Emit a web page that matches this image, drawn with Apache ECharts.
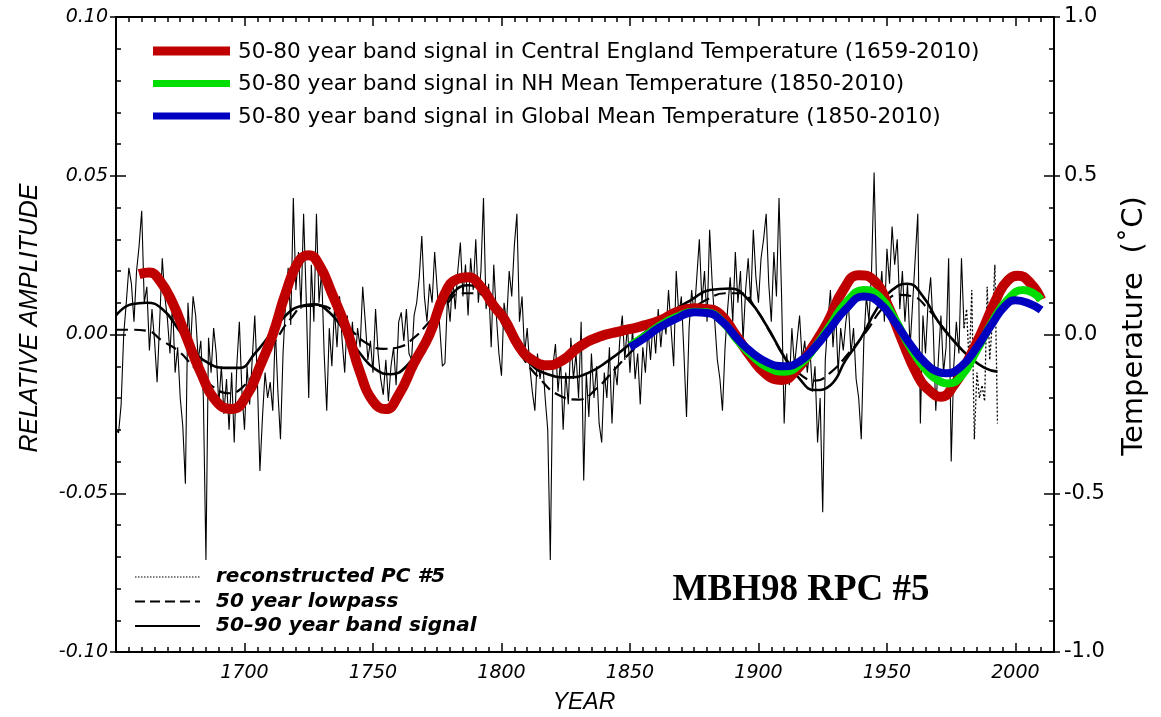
<!DOCTYPE html>
<html>
<head>
<meta charset="utf-8">
<script src="https://cdn.jsdelivr.net/npm/echarts@6/dist/echarts.min.js"></script>
<style>
  html, body { margin: 0; padding: 0; background: #ffffff; }
  #chart { width: 1161px; height: 717px; }
</style>
</head>
<body>
<div id="chart"></div>
<script>
// ---- Reconstructed PC #5 (relative amplitude), annual values 1650-1980 ----
const pcStartYear = 1650;
const pcValues = [
  -0.030, -0.031, -0.022, 0.000, 0.010, 0.021, 0.016, 0.004, 0.020, 0.028,   // 1650-1659
  0.039, 0.010, 0.015, -0.005, 0.008, -0.002, -0.015, 0.004, 0.024, 0.012,   // 1660-1669
  0.005, -0.006, 0.010, -0.012, -0.004, -0.020, -0.029, -0.047, 0.010, -0.004, // 1670-1679
  0.012, 0.006, -0.008, -0.002, -0.020, -0.071, -0.001, -0.012, 0.002, -0.006, // 1680-1689
  -0.022, -0.010, -0.025, -0.014, -0.030, -0.012, -0.034, -0.010, 0.004, -0.018, // 1690-1699
  -0.030, -0.010, -0.022, -0.008, 0.006, -0.014, -0.043, -0.026, -0.012, -0.020, // 1700-1709
  -0.015, -0.024, 0.002, -0.018, -0.033, -0.006, 0.010, 0.021, 0.003, 0.043,  // 1710-1719
  0.014, 0.026, 0.008, 0.038, 0.012, -0.020, 0.022, 0.004, 0.038, 0.010,      // 1720-1729
  0.020, -0.006, -0.024, 0.002, -0.010, 0.008, -0.004, 0.012, -0.002, -0.012, // 1730-1739
  0.006, -0.006, 0.004, -0.010, 0.002, -0.004, 0.015, 0.004, -0.008, -0.002,  // 1740-1749
  -0.012, 0.008, -0.006, -0.014, -0.019, -0.008, -0.021, -0.010, -0.004, -0.016, // 1750-1759
  0.004, 0.007, -0.002, 0.008, -0.006, -0.008, 0.006, 0.010, 0.018, 0.031,    // 1760-1769
  0.012, 0.004, 0.016, 0.010, 0.026, 0.014, 0.002, -0.010, -0.009, 0.012,     // 1770-1779
  0.004, 0.018, 0.008, 0.020, 0.029, 0.012, 0.022, 0.006, 0.024, 0.014,       // 1780-1789
  0.030, 0.010, 0.020, 0.043, 0.008, 0.016, -0.004, 0.022, 0.006, -0.006,     // 1790-1799
  -0.013, 0.010, 0.004, 0.020, 0.012, 0.028, 0.038, 0.004, 0.012, -0.006,     // 1800-1809
  0.002, -0.010, -0.018, -0.024, -0.006, -0.014, -0.008, -0.020, -0.030, -0.071, // 1810-1819
  -0.010, -0.003, -0.018, -0.008, -0.030, -0.012, -0.022, -0.001, -0.014, -0.006, // 1820-1829
  -0.020, 0.004, -0.046, -0.012, -0.026, -0.006, -0.020, -0.010, -0.028, -0.034, // 1830-1839
  -0.012, -0.020, -0.004, -0.028, -0.010, -0.016, -0.002, 0.006, -0.008, 0.003, // 1840-1849
  -0.012, 0.002, -0.014, -0.006, -0.022, -0.004, -0.012, 0.002, -0.008, 0.004, // 1850-1859
  -0.006, 0.008, -0.004, 0.006, 0.000, 0.014, 0.002, -0.010, 0.020, 0.006,    // 1860-1869
  0.012, -0.006, -0.026, 0.002, 0.014, 0.006, 0.018, 0.030, 0.010, 0.020,     // 1870-1879
  0.004, 0.033, 0.016, 0.004, -0.008, -0.014, -0.024, -0.004, 0.008, 0.018,   // 1880-1889
  0.004, 0.026, 0.010, 0.020, -0.002, 0.014, 0.024, 0.010, 0.033, 0.018,      // 1890-1899
  0.010, 0.024, 0.030, 0.038, 0.016, 0.004, 0.026, 0.012, 0.043, 0.012,       // 1900-1909
  -0.028, -0.006, -0.016, 0.002, -0.010, -0.002, 0.006, -0.008, -0.002, -0.012, // 1910-1919
  -0.004, -0.018, -0.010, -0.034, -0.020, -0.056, -0.008, 0.004, 0.014, -0.004, // 1920-1929
  0.008, -0.012, 0.002, -0.005, 0.004, 0.010, -0.006, 0.002, -0.014, -0.020,  // 1930-1939
  -0.033, -0.002, 0.012, 0.004, 0.020, 0.051, 0.014, 0.010, 0.020, 0.004,     // 1940-1949
  0.027, 0.016, 0.034, 0.022, 0.030, 0.008, 0.020, 0.004, 0.016, -0.004,      // 1950-1959
  0.010, 0.024, 0.038, -0.028, 0.006, -0.006, 0.010, 0.018, 0.002, -0.024,    // 1960-1969
  -0.008, 0.006, -0.012, -0.004, 0.024, -0.040, -0.010, 0.004, -0.006, 0.024, // 1970-1979
  0.002                                                                         // 1980
];

// ---- Reconstructed PC #5 tail shown dotted, 1980-1993 ----
const pcTailYears  = [1980, 1981, 1982, 1983, 1984, 1985, 1986, 1987, 1988, 1989, 1990, 1991, 1992, 1993];
const pcTailValues = [0.002, 0.008, -0.010, 0.014, -0.033, -0.012, -0.020, -0.016, -0.021, 0.015, -0.008, 0.004, 0.022, -0.028];

// ---- 50 year lowpass of PC #5 ----
const lowYears  = [1650, 1656, 1662, 1668, 1674, 1680, 1687, 1694, 1700, 1706, 1712, 1718, 1724, 1730, 1736, 1742, 1748, 1754, 1760, 1766, 1772, 1778, 1784, 1790, 1796, 1802, 1808, 1815, 1822, 1830, 1837, 1844, 1851, 1858, 1865, 1872, 1880, 1887, 1893, 1899, 1905, 1911, 1917, 1922, 1928, 1935, 1942, 1948, 1954, 1960, 1966, 1972, 1977];
const lowValues = [0.0015, 0.0015, 0.0012, -0.002, -0.005, -0.010, -0.016, -0.0185, -0.016, -0.009, -0.002, 0.005, 0.009, 0.009, 0.006, 0.001, -0.003, -0.0045, -0.004, -0.001, 0.004, 0.009, 0.013, 0.013, 0.009, 0.001, -0.007, -0.014, -0.019, -0.0205, -0.017, -0.011, -0.005, 0.000, 0.004, 0.007, 0.011, 0.013, 0.013, 0.008, 0.000, -0.008, -0.013, -0.0145, -0.012, -0.006, 0.001, 0.008, 0.0125, 0.012, 0.008, 0.002, -0.003];

// ---- 50-90 year band signal of PC #5 ----
const bandYears  = [1650, 1656, 1662, 1668, 1674, 1680, 1686, 1692, 1698, 1704, 1710, 1716, 1722, 1727, 1733, 1739, 1745, 1751, 1757, 1763, 1769, 1775, 1781, 1787, 1793, 1799, 1805, 1811, 1818, 1826, 1834, 1842, 1850, 1858, 1866, 1874, 1881, 1889, 1896, 1903, 1910, 1916, 1922, 1928, 1934, 1940, 1946, 1952, 1958, 1964, 1970, 1976, 1982, 1988, 1993];
const bandValues = [0.006, 0.0095, 0.010, 0.008, 0.002, -0.005, -0.009, -0.0105, -0.0105, -0.006, 0.000, 0.006, 0.009, 0.0095, 0.007, 0.001, -0.006, -0.011, -0.0125, -0.010, -0.003, 0.006, 0.013, 0.0155, 0.013, 0.006, -0.002, -0.009, -0.0125, -0.0135, -0.012, -0.008, -0.003, 0.002, 0.007, 0.011, 0.014, 0.0145, 0.011, 0.003, -0.007, -0.014, -0.0175, -0.016, -0.008, -0.001, 0.008, 0.014, 0.016, 0.012, 0.004, -0.002, -0.007, -0.0105, -0.0117];

// ---- 50-80 year band signals in temperature records (deg C) ----
const cetYears = [1659, 1663, 1667, 1672, 1677, 1683, 1689, 1695, 1701, 1706, 1711, 1716, 1721, 1725, 1729, 1734, 1740, 1745, 1750, 1755, 1760, 1766, 1772, 1778, 1783, 1787, 1792, 1797, 1801, 1807, 1812, 1818, 1824, 1830, 1838, 1846, 1854, 1862, 1868, 1875, 1880, 1885, 1891, 1897, 1903, 1909, 1915, 1921, 1927, 1933, 1939, 1945, 1951, 1955, 1962, 1967, 1971, 1976, 1981, 1987, 1993, 1997, 2001, 2006, 2010];
const cetTemp  = [0.19, 0.195, 0.17, 0.10, 0.00, -0.12, -0.21, -0.235, -0.19, -0.10, 0.00, 0.13, 0.23, 0.25, 0.22, 0.13, 0.01, -0.12, -0.21, -0.235, -0.19, -0.09, 0.00, 0.13, 0.175, 0.18, 0.15, 0.09, 0.05, -0.04, -0.08, -0.097, -0.08, -0.04, -0.007, 0.01, 0.025, 0.045, 0.07, 0.083, 0.08, 0.065, 0.00, -0.07, -0.125, -0.143, -0.11, -0.04, 0.04, 0.14, 0.187, 0.17, 0.08, 0.00, -0.13, -0.18, -0.196, -0.16, -0.09, 0.01, 0.12, 0.17, 0.185, 0.16, 0.11];

const nhYears = [1850, 1855, 1861, 1868, 1875, 1880, 1886, 1892, 1898, 1904, 1910, 1916, 1922, 1928, 1934, 1941, 1947, 1953, 1959, 1965, 1970, 1974, 1979, 1985, 1991, 1997, 2003, 2007, 2010];
const nhTemp  = [-0.035, -0.01, 0.025, 0.055, 0.072, 0.07, 0.04, -0.02, -0.07, -0.105, -0.117, -0.095, -0.04, 0.03, 0.10, 0.14, 0.12, 0.05, -0.04, -0.11, -0.145, -0.154, -0.13, -0.05, 0.04, 0.11, 0.14, 0.13, 0.11];

const glYears = [1850, 1855, 1861, 1868, 1875, 1880, 1886, 1892, 1898, 1904, 1910, 1916, 1922, 1928, 1934, 1941, 1947, 1953, 1959, 1965, 1970, 1973, 1979, 1985, 1991, 1996, 2000, 2006, 2010];
const glTemp  = [-0.04, -0.015, 0.02, 0.05, 0.07, 0.068, 0.04, -0.015, -0.06, -0.09, -0.10, -0.085, -0.04, 0.02, 0.08, 0.12, 0.10, 0.04, -0.03, -0.09, -0.118, -0.122, -0.10, -0.04, 0.035, 0.09, 0.108, 0.095, 0.077];

// ---- axis tick values ----
const yearTicks = [1700, 1750, 1800, 1850, 1900, 1950, 2000];
const ampTicks  = [-0.10, -0.05, 0.00, 0.05, 0.10];
const tempTicks = [-1.0, -0.5, 0.0, 0.5, 1.0];

// ---- legend texts ----
const colourLegend = [
  { text: '50-80 year band signal in Central England Temperature (1659-2010)', color: '#c00000', width: 9 },
  { text: '50-80 year band signal in NH Mean Temperature (1850-2010)', color: '#00dd00', width: 7 },
  { text: '50-80 year band signal in Global Mean Temperature (1850-2010)', color: '#0000c0', width: 7 }
];
const blackLegend = [
  { text: 'reconstructed PC #5', dash: [1.5, 1.5], width: 1 },
  { text: '50 year lowpass', dash: [10, 5], width: 2 },
  { text: '50\u201390 year band signal', dash: null, width: 2 }
];

const pair = (xs, ys) => xs.map((x, i) => [x, ys[i]]);
const pcData = pcValues.map((v, i) => [pcStartYear + i, v]);

const GRID = { left: 116, right: 107, top: 17, bottom: 65 };
const xMin = 1650, xMax = 2015;

function xAxisDef(position, interval, major) {
  return {
    type: 'value', position: position, min: xMin, max: xMax, interval: interval,
    axisLine: { show: true, onZero: false, lineStyle: { color: '#000', width: 2 } },
    axisTick: { show: true, inside: true, length: major ? 9 : 5, lineStyle: { color: '#000', width: 1.5 } },
    axisLabel: {
      show: major && position === 'bottom',
      showMinLabel: false, showMaxLabel: false,
      margin: 12, color: '#000', fontFamily: 'DejaVu Sans', fontStyle: 'italic', fontSize: 19,
      formatter: v => (yearTicks.indexOf(Math.round(v)) >= 0 ? String(Math.round(v)) : '')
    },
    splitLine: { show: false }
  };
}

// short outward stubs on the major value ticks of both vertical axes
function outerStubAxis(position, min, max, interval) {
  return {
    type: 'value', position: position, min: min, max: max, interval: interval,
    axisLine: { show: false, onZero: false },
    axisTick: { show: true, inside: false, length: 6, lineStyle: { color: '#000', width: 1.5 } },
    axisLabel: { show: false },
    splitLine: { show: false }
  };
}

const chart = echarts.init(document.getElementById('chart'), null, { renderer: 'canvas' });

const option = {
  animation: false,
  backgroundColor: '#ffffff',
  grid: Object.assign({ containLabel: false, outerBoundsMode: 'none' }, GRID),
  xAxis: [
    xAxisDef('bottom', 50, true),
    xAxisDef('bottom', 5, false),
    xAxisDef('top', 50, true),
    xAxisDef('top', 5, false)
  ],
  yAxis: [
    {
      type: 'value', position: 'left', min: -0.1, max: 0.1, interval: 0.05,
      axisLine: { show: true, onZero: false, lineStyle: { color: '#000', width: 2 } },
      axisTick: { show: true, inside: true, length: 10, lineStyle: { color: '#000', width: 1.5 } },
      minorTick: { show: true, splitNumber: 5, length: 5, lineStyle: { color: '#000', width: 1.5 } },
      axisLabel: {
        margin: 8, color: '#000', fontFamily: 'DejaVu Sans', fontStyle: 'italic', fontSize: 19,
        formatter: v => {
          const t = ampTicks.find(a => Math.abs(a - v) < 1e-9);
          return t === undefined ? '' : t.toFixed(2);
        }
      },
      splitLine: { show: false }
    },
    {
      type: 'value', position: 'right', min: -1, max: 1, interval: 0.5,
      axisLine: { show: true, onZero: false, lineStyle: { color: '#000', width: 2 } },
      axisTick: { show: true, inside: true, length: 10, lineStyle: { color: '#000', width: 1.5 } },
      minorTick: { show: true, splitNumber: 5, length: 5, lineStyle: { color: '#000', width: 1.5 } },
      axisLabel: {
        margin: 10, color: '#000', fontFamily: 'DejaVu Sans', fontSize: 21,
        formatter: v => {
          const t = tempTicks.find(a => Math.abs(a - v) < 1e-9);
          return t === undefined ? '' : t.toFixed(1);
        }
      },
      splitLine: { show: false }
    },
    outerStubAxis('left', -0.1, 0.1, 0.05),
    outerStubAxis('right', -1, 1, 0.5)
  ],
  series: [
    {
      name: 'reconstructed PC #5', type: 'line', xAxisIndex: 0, yAxisIndex: 0,
      data: pcData, symbol: 'none', smooth: false, z: 2,
      lineStyle: { color: '#000', width: 1.1 }
    },
    {
      name: 'reconstructed PC #5 (tail)', type: 'line', xAxisIndex: 0, yAxisIndex: 0,
      data: pair(pcTailYears, pcTailValues), symbol: 'none', smooth: false, z: 2,
      lineStyle: { color: '#000', width: 1.3, type: [2, 2] }
    },
    {
      name: '50 year lowpass', type: 'line', xAxisIndex: 0, yAxisIndex: 0,
      data: pair(lowYears, lowValues), symbol: 'none', smooth: 0.5, z: 3,
      lineStyle: { color: '#000', width: 2.2, type: [12, 6] }
    },
    {
      name: '50-90 year band signal', type: 'line', xAxisIndex: 0, yAxisIndex: 0,
      data: pair(bandYears, bandValues), symbol: 'none', smooth: 0.5, z: 3,
      lineStyle: { color: '#000', width: 2.6 }
    },
    {
      name: 'Central England Temperature', type: 'line', xAxisIndex: 0, yAxisIndex: 1,
      data: pair(cetYears, cetTemp), symbol: 'none', smooth: 0.5, z: 4,
      lineStyle: { color: '#c00000', width: 10, cap: 'butt' }
    },
    {
      name: 'NH Mean Temperature', type: 'line', xAxisIndex: 0, yAxisIndex: 1,
      data: pair(nhYears, nhTemp), symbol: 'none', smooth: 0.5, z: 5,
      lineStyle: { color: '#00dd00', width: 8, cap: 'butt' }
    },
    {
      name: 'Global Mean Temperature', type: 'line', xAxisIndex: 0, yAxisIndex: 1,
      data: pair(glYears, glTemp), symbol: 'none', smooth: 0.5, z: 6,
      lineStyle: { color: '#0000c0', width: 8, cap: 'butt' }
    }
  ],
  graphic: []
};

// colour legend (upper left)
colourLegend.forEach((item, i) => {
  const y = 51 + i * 32.5;
  option.graphic.push({
    type: 'line', z: 100, shape: { x1: 153, y1: y, x2: 230, y2: y },
    style: { stroke: item.color, lineWidth: item.width }
  });
  option.graphic.push({
    type: 'text', z: 100, x: 238, y: y + 1,
    style: { text: item.text, fill: '#000', font: '21.6px "DejaVu Sans"', textVerticalAlign: 'middle', verticalAlign: 'middle' }
  });
});

// black-line legend (lower left)
blackLegend.forEach((item, i) => {
  const y = 577 + i * 24.5;
  option.graphic.push({
    type: 'line', z: 100, shape: { x1: 135, y1: y, x2: 200, y2: y },
    style: { stroke: '#000', lineWidth: item.width, lineDash: item.dash }
  });
  option.graphic.push({
    type: 'text', z: 100, x: 216, y: y,
    style: { text: item.text, fill: '#000', font: 'italic bold 20px "DejaVu Sans"', textVerticalAlign: 'middle', verticalAlign: 'middle' }
  });
});

// plot title inside the frame
option.graphic.push({
  type: 'text', z: 100, x: 801, y: 590,
  style: { text: 'MBH98 RPC #5', fill: '#000', font: 'bold 37px "Liberation Serif"', textAlign: 'center', align: 'center', textVerticalAlign: 'middle', verticalAlign: 'middle' }
});

// axis titles
option.graphic.push({
  type: 'text', z: 100, x: 584, y: 703,
  style: { text: 'YEAR', fill: '#000', font: 'italic 23px "Liberation Sans"', textAlign: 'center', align: 'center', textVerticalAlign: 'middle', verticalAlign: 'middle' }
});
option.graphic.push({
  type: 'text', z: 100, x: 30, y: 318, rotation: Math.PI / 2,
  style: { text: 'RELATIVE AMPLITUDE', fill: '#000', font: 'italic 25px "Liberation Sans"', textAlign: 'center', align: 'center', textVerticalAlign: 'middle', verticalAlign: 'middle' }
});
option.graphic.push({
  type: 'text', z: 100, x: 1134, y: 326, rotation: Math.PI / 2,
  style: { text: 'Temperature  (\u02DAC)', fill: '#000', font: '29px "DejaVu Sans"', textAlign: 'center', align: 'center', textVerticalAlign: 'middle', verticalAlign: 'middle' }
});

chart.setOption(option);
</script>
</body>
</html>
